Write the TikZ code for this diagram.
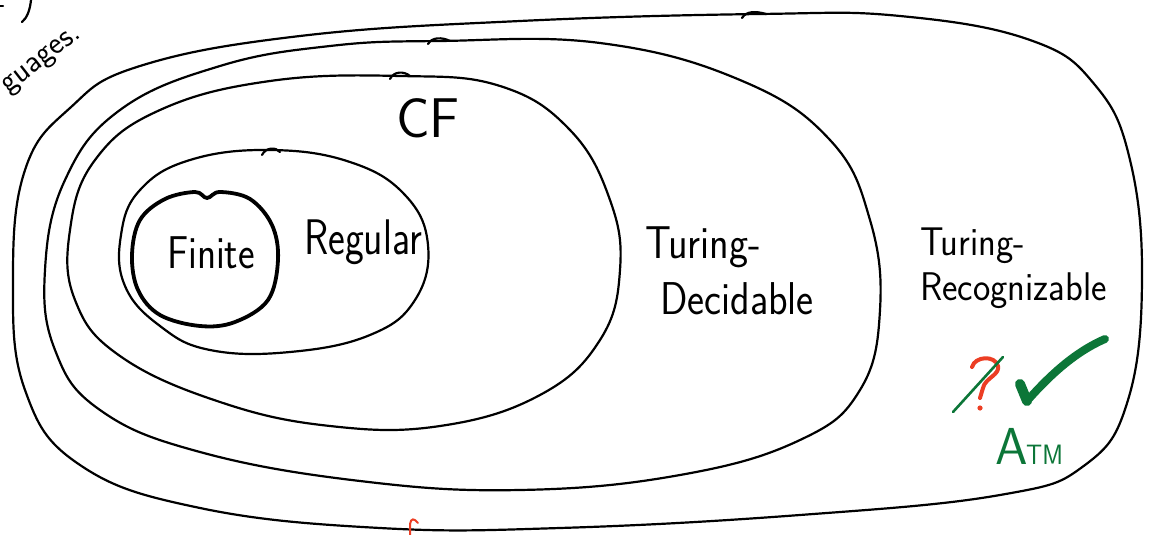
\documentclass[tikz,border=0pt]{standalone}
\usepackage{fontspec}
\definecolor{ink}{RGB}{0,0,0}
\definecolor{grn}{RGB}{12,118,56}
\definecolor{redq}{RGB}{236,62,36}
\tikzset{
  setline/.style={draw=ink, line width=2.2pt, line join=round, line cap=round},
  finline/.style={draw=ink, line width=3.8pt, line join=round, line cap=round},
  lbl/.style={inner sep=0pt, font=\sffamily, text=ink},
}
\newcommand{\fs}[1]{\fontsize{#1}{#1}\selectfont}
\begin{document}
\begin{tikzpicture}[x=1pt,y=-1pt]
\useasboundingbox (0,0) rectangle (1149,535);
% Turing-recognizable
\draw[setline] plot[smooth cycle, tension=0.7] coordinates {
 (760,14) (900,16) (1030,40) (1095,85) (1130,160) (1142,280) (1128,400)
 (1085,465) (1000,495) (800,515) (560,528) (380,528) (200,508) (80,465)
 (25,390) (13,280) (25,170) (70,108) (140,66) (300,36) (520,21)};
\draw[setline] (742,18) .. controls (746,11) and (756,11) .. (766,14);
% Turing-decidable
\draw[setline] plot[smooth cycle, tension=0.7] coordinates {
 (440,41) (600,43) (740,80) (830,140) (870,220) (880,310) (860,390)
 (800,440) (680,475) (520,490) (360,481) (200,452) (100,410) (55,350)
 (45,270) (65,180) (120,110) (220,66) (330,46)};
\draw[setline] (428,44) .. controls (432,37) and (442,37) .. (450,41);
% CF
\draw[setline] plot[smooth cycle, tension=0.7] coordinates {
 (400,76) (500,86) (570,130) (610,200) (620,270) (600,340) (540,395)
 (440,426) (330,426) (220,402) (120,356) (75,300) (70,230) (95,160)
 (160,110) (270,81)};
\draw[setline] (390,79) .. controls (394,71) and (404,71) .. (410,76);
% Regular
\draw[setline] plot[smooth cycle, tension=0.7] coordinates {
 (270,150) (350,162) (405,195) (428,245) (415,300) (370,335) (290,352)
 (210,350) (160,326) (125,286) (121,235) (140,190) (190,160)};
\draw[setline] (262,155) .. controls (266,147) and (276,147) .. (280,152);
% Finite
\draw[finline] plot[smooth cycle, tension=0.6] coordinates {
 (207,198) (220,192) (250,199) (272,225) (278,260) (268,300) (235,322) (200,326)
 (160,315) (138,290) (132,255) (140,220) (165,199) (195,192)};
% labels
\node[lbl, anchor=base] (fin) at (211,268) {\fs{46}\scalebox{0.86}[1]{Finite}};
\node[lbl, anchor=base] (reg) at (363,254) {\fs{50}\scalebox{0.8}[1]{Regular}};
\node[lbl, anchor=base] (cf) at (428,137) {\fs{56}CF};
\node[lbl, anchor=base west] (dec1) at (645,258) {\fs{46}\scalebox{0.88}[1]{Turing-}};
\node[lbl, anchor=base west] (dec2) at (660,314) {\fs{46}\scalebox{0.88}[1]{Decidable}};
\node[lbl, anchor=base west] (rec1) at (920,255) {\fs{40}\scalebox{0.92}[1]{Turing-}};
\node[lbl, anchor=base west] (rec2) at (920,300) {\fs{40}\scalebox{0.92}[1]{Recognizable}};
% top-left partial text
\node[lbl, rotate=38, anchor=base east] (lang) at (82,36) {\fs{32}guages.};
\draw[ink, line width=2.2pt, line cap=round] (31,0) .. controls (30,10) and (27,18) .. (22,22);
\draw[ink, line width=2.2pt, line cap=round] (0,6) -- (3,6);
% question mark, slashed
\draw[redq, line width=4pt, line cap=round, line join=round]
  (972,367) .. controls (975,356) and (995,355) .. (998,366)
  .. controls (1000,375) and (985,378) .. (983,388) -- (980,398);
\fill[redq] (980,408) circle (2.6);
\draw[grn, line width=2.6pt, line cap=round] (953,412) -- (1003,357);
% check mark
\draw[grn, line width=10pt, line cap=round, line join=round]
  (1020,384) -- (1027,401);
\draw[grn, line width=8pt, line cap=round, line join=round]
  (1027,401) .. controls (1050,375) and (1075,352) .. (1105,339);
% A_TM
\node[lbl, text=grn, anchor=base west] (atmA) at (995,464) {\fs{52}A};
\node[lbl, text=grn, anchor=base west] (atmT) at (1026,464) {\fs{28}\scalebox{0.9}[1]{TM}};
% red mark at bottom
\draw[redq, line width=2pt, line cap=round] (410,535) -- (410,524) .. controls (411,518) and (414,518) .. (418,523);
\end{tikzpicture}
\end{document}
